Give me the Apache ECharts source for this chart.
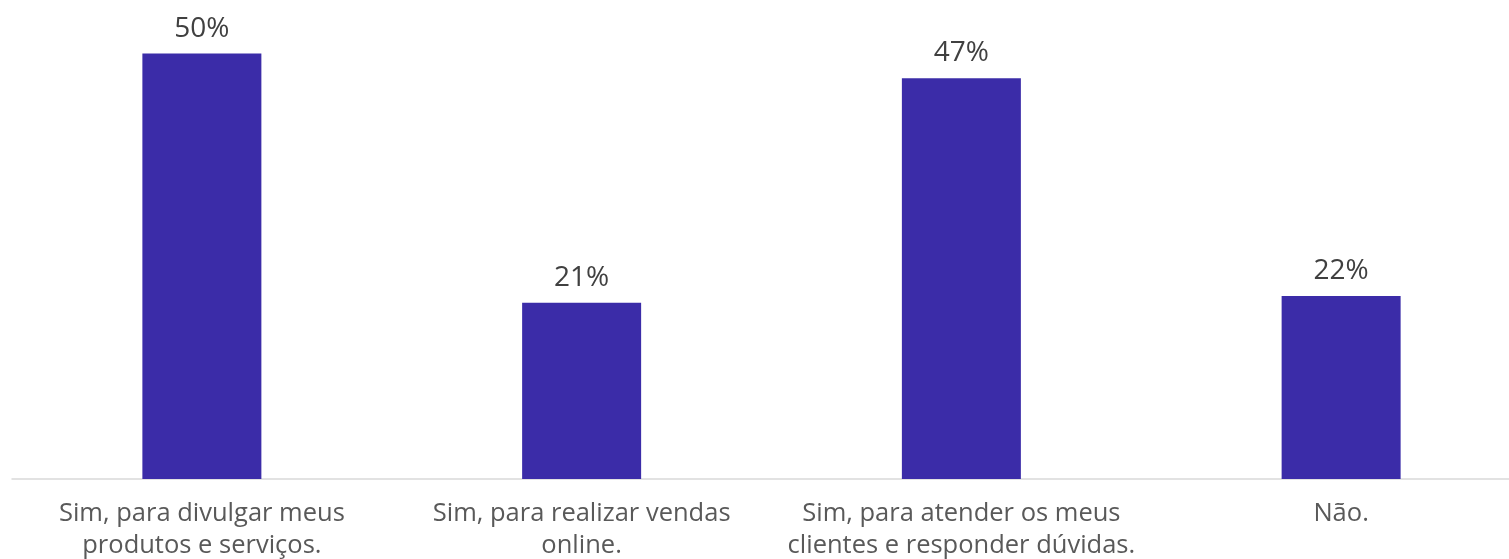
<!DOCTYPE html>
<html>
<head>
<meta charset="utf-8">
<script src="https://cdn.jsdelivr.net/npm/echarts@6/dist/echarts.min.js"></script>
<style>
  html, body { margin: 0; padding: 0; background: #fff; }
  #chart { width: 1509px; height: 559px; }
</style>
</head>
<body>
<div id="chart"></div>
<script>
const categories = [
  'Sim, para divulgar meus\nprodutos e serviços.',
  'Sim, para realizar vendas\nonline.',
  'Sim, para atender os meus\nclientes e responder dúvidas.',
  'Não.'
]
const values = [50.0, 20.7, 47.1, 21.5]

const chart = echarts.init(document.getElementById('chart'))
chart.setOption({
  animation: false,
  grid: { left: 12, width: 1519, top: 11, bottom: 80, outerBoundsMode: 'none' },
  xAxis: {
    type: 'category',
    data: categories,
    axisLine: { lineStyle: { color: '#d9d9d9', width: 1.5 } },
    axisTick: { show: false },
    axisLabel: {
      color: '#595959',
      fontFamily: 'Open Sans',
      fontSize: 25.5,
      lineHeight: 32,
      margin: 19,
      interval: 0
    }
  },
  yAxis: {
    type: 'value',
    min: 0,
    max: 55,
    show: false,
    splitLine: { show: false }
  },
  series: [
    {
      type: 'bar',
      data: values,
      barWidth: 119,
      itemStyle: { color: '#3b2ca8' },
      label: {
        show: true,
        position: 'top',
        distance: 11,
        color: '#404040',
        fontFamily: 'Open Sans',
        fontSize: 28,
        formatter: (p) => Math.round(p.value) + '%'
      }
    }
  ]
})
</script>
</body>
</html>
